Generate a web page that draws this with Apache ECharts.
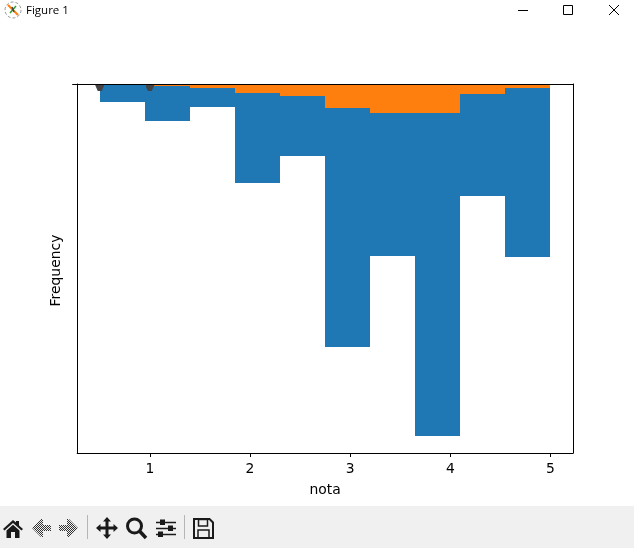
<!DOCTYPE html>
<html>
<head>
<meta charset="utf-8">
<style>html,body{margin:0;padding:0;background:#fff}#c{width:634px;height:548px}</style>
<script src="https://cdn.jsdelivr.net/npm/echarts@6/dist/echarts.min.js"></script>
</head>
<body>
<div id="c"></div>
<script>
const binEdges = [0.5, 0.95, 1.4, 1.85, 2.3, 2.75, 3.2, 3.65, 4.1, 4.55, 5.0];
const orangeValues = [0, 1.5, 4, 9, 12, 24, 29, 29, 10, 4];
const blueValues = [18, 35.5, 19, 90, 60, 239, 143, 323, 102, 169];
const outlierX = [0.5, 1.0];
const outlierY = [0, 0];
const xTicks = [1, 2, 3, 4, 5];
const xName = 'nota';
const yName = 'Frequency';
const windowTitle = 'Figure 1';

const orangeRows = orangeValues.map((v, i) => [binEdges[i], binEdges[i + 1], 0, v]);
const blueRows = blueValues.map((v, i) => [binEdges[i], binEdges[i + 1], orangeValues[i], orangeValues[i] + v]);

function renderBin(params, api) {
  const a = api.coord([api.value(0), api.value(2)]);
  const b = api.coord([api.value(1), api.value(3)]);
  const x0 = Math.round(a[0]), x1 = Math.round(b[0]);
  const y0 = Math.round(a[1]), y1 = Math.round(b[1]);
  return {
    type: 'rect',
    shape: { x: x0, y: y0, width: x1 - x0, height: y1 - y0 },
    style: { fill: api.visual('color') }
  };
}

const dark = '#1a1a1a';
const dither = document.createElement('canvas');
dither.width = 2; dither.height = 2;
const dctx = dither.getContext('2d');
dctx.fillStyle = '#f0f0f0'; dctx.fillRect(0, 0, 2, 2);
dctx.fillStyle = '#333'; dctx.fillRect(0, 0, 1, 1); dctx.fillRect(1, 1, 1, 1);
const ditherFill = { image: dither, repeat: 'repeat' };

function poly(points, x, y, fill, stroke, lw) {
  return { type: 'polygon', silent: true, shape: { points: points.map(p => [p[0] + x, p[1] + y]) },
    style: { fill: fill || 'none', stroke: stroke || 'none', lineWidth: lw || 0 } };
}
function ln(x1, y1, x2, y2, w, c) {
  return { type: 'line', silent: true, shape: { x1, y1, x2, y2 }, style: { stroke: c || dark, lineWidth: w } };
}
function box(x, y, w, h, fill, stroke, lw) {
  return { type: 'rect', silent: true, shape: { x, y, width: w, height: h }, style: { fill: fill || 'none', stroke: stroke || 'none', lineWidth: lw || 0 } };
}
const arrowLeft = [[0,10],[9,1],[11,1],[11,7],[19,7],[19,13],[11,13],[11,19],[9,19]];
const arrowRight = arrowLeft.map(p => [19 - p[0], p[1]]);
const chrome = [
  box(0, 506, 634, 42, '#f0f0f0'),
  // window icon
  { type: 'circle', silent: true, shape: { cx: 13, cy: 10, r: 8 }, style: { fill: 'none', stroke: '#999', lineWidth: 1, lineDash: [3, 2] } },
  ln(8, 5, 18, 15, 2, '#ff7f0e'), ln(10, 13, 16, 6, 1.5, '#2ca02c'), ln(12, 7, 14, 12, 1.5, '#444'),
  { type: 'text', silent: true, style: { x: 26, y: 11, text: windowTitle, fill: '#000', font: '11.5px "Open Sans", "Noto Sans", sans-serif', textVerticalAlign: 'middle' } },
  // window buttons
  ln(518, 10.5, 528, 10.5, 1, '#000'),
  box(563.5, 5.5, 9, 9, 'none', '#000', 1),
  ln(609, 5, 619, 15, 1, '#000'), ln(619, 5, 609, 15, 1, '#000'),
  // toolbar: home
  poly([[10,0],[13,2.5],[13,1],[16,1],[16,5.5],[20,9],[18.5,10.5],[10,3],[1.5,10.5],[0,9]], 3, 520, dark),
  poly([[3.5,10.5],[10,4.8],[16.5,10.5],[16.5,18],[12,18],[12,12],[8,12],[8,18],[3.5,18]], 3, 520, dark),
  // arrows
  poly(arrowLeft, 32, 518, ditherFill),
  poly(arrowRight, 59, 518, ditherFill),
  ln(87.5, 515, 87.5, 539, 1, '#b5b5b5'),
  // move
  poly([[11,0],[15,4.5],[12.5,4.5],[12.5,9.5],[17.5,9.5],[17.5,7],[22,11],[17.5,15],[17.5,12.5],[12.5,12.5],[12.5,17.5],[15,17.5],[11,22],[7,17.5],[9.5,17.5],[9.5,12.5],[4.5,12.5],[4.5,15],[0,11],[4.5,7],[4.5,9.5],[9.5,9.5],[9.5,4.5],[7,4.5]], 96, 517, dark),
  // zoom
  { type: 'circle', silent: true, shape: { cx: 134.5, cy: 526, r: 7 }, style: { fill: 'none', stroke: dark, lineWidth: 3 } },
  ln(139.5, 531, 146, 538, 3.5),
  // sliders
  ln(156, 522.5, 176, 522.5, 1.5), ln(156, 528.5, 176, 528.5, 1.5), ln(156, 534.5, 176, 534.5, 1.5),
  box(160, 519.5, 5, 5.5, dark), box(168, 525.5, 5, 5.5, dark), box(158, 531.5, 5, 5.5, dark),
  ln(184.5, 515, 184.5, 539, 1, '#b5b5b5'),
  // save
  poly([[0,0],[15.5,0],[19,3.5],[19,19],[0,19]], 194, 519, 'none', dark, 2),
  box(198.5, 519.5, 9, 6.5, 'none', dark, 1.5),
  box(198, 530, 11, 8, 'none', dark, 1.5)
];

const font = 'DejaVu Sans';
const blackLine = { show: true, onZero: false, lineStyle: { color: '#000', width: 1 } };
const xMin = 0.275, xMax = 5.225;
const chart = echarts.init(document.getElementById('c'), null, { renderer: 'canvas' });
chart.setOption({
  animation: false,
  backgroundColor: '#fff',
  grid: { left: 77.2, top: 84, width: 495.8, height: 369, containLabel: false },
  xAxis: [
    {
      type: 'value', min: xMin, max: xMax, position: 'bottom', z: 5,
      name: xName, nameLocation: 'middle', nameGap: 30,
      nameTextStyle: { color: '#000', fontFamily: font, fontSize: 13.9 },
      axisLine: blackLine,
      axisTick: { show: true, length: 4, inside: false, customValues: xTicks, lineStyle: { color: '#000', width: 1 } },
      axisLabel: { show: true, customValues: xTicks, margin: 9, color: '#000', fontFamily: font, fontSize: 13.9 },
      splitLine: { show: false }
    },
    {
      type: 'value', min: xMin, max: xMax, position: 'top', z: 5,
      axisLine: blackLine, axisTick: { show: false }, axisLabel: { show: false }, splitLine: { show: false }
    }
  ],
  yAxis: [
    {
      type: 'value', min: 0, max: 369, inverse: true, position: 'left', z: 5,
      name: yName, nameLocation: 'middle', nameGap: 14, nameRotate: 90,
      nameTextStyle: { color: '#000', fontFamily: font, fontSize: 13.9, padding: [0, 4, 0, 0] },
      axisLine: blackLine,
      axisTick: { show: true, length: 5, customValues: [0], lineStyle: { color: '#000', width: 1 } },
      axisLabel: { show: false },
      splitLine: { show: false }
    },
    {
      type: 'value', min: 0, max: 369, inverse: true, position: 'right', z: 5,
      axisLine: blackLine, axisTick: { show: false }, axisLabel: { show: false }, splitLine: { show: false }
    }
  ],
  series: [
    { type: 'custom', name: 'blue', renderItem: renderBin, itemStyle: { color: '#1f77b4' }, data: blueRows, encode: { x: [0, 1], y: [2, 3] }, clip: true, silent: true },
    { type: 'custom', name: 'orange', renderItem: renderBin, itemStyle: { color: '#ff7f0e' }, data: orangeRows, encode: { x: [0, 1], y: [2, 3] }, clip: true, silent: true },
    {
      type: 'scatter', name: 'outliers', data: outlierX.map((x, i) => [x, outlierY[i]]),
      symbol: 'path://M0 0L10 0L7 7L3 7Z', symbolSize: [10, 7], symbolOffset: [0, 3.5],
      itemStyle: { color: '#444', opacity: 1 }, z: 4, silent: true
    }
  ],
  graphic: { elements: chrome }
});
</script>
</body>
</html>
